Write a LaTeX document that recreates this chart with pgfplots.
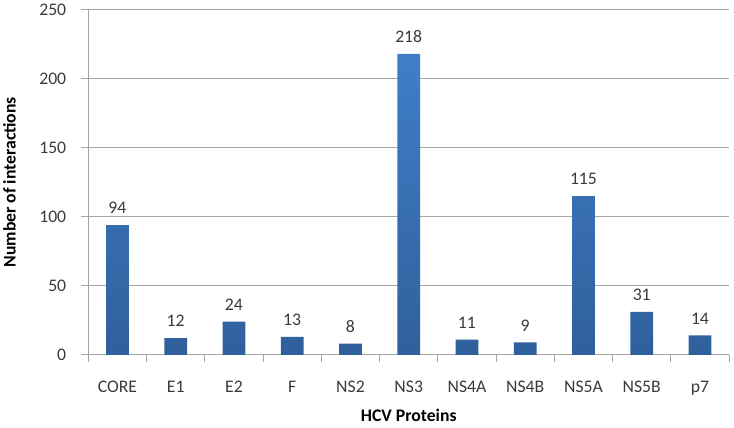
\documentclass[border=0pt]{standalone}
\usepackage{pgfplots}
\pgfplotsset{compat=1.18}
\usepackage{fontspec}
\setmainfont{Carlito}

\definecolor{bartop}{HTML}{407EC8}
\definecolor{barmid}{HTML}{3871B8}
\definecolor{barbot}{HTML}{2F609C}
\definecolor{gridgray}{HTML}{A6A6A6}
\definecolor{txt}{HTML}{3A3A3A}

\begin{document}
\begin{tikzpicture}
\begin{axis}[
    scale only axis,
    width=652pt, height=351pt,
    ybar, bar width=23pt,
    xmin=-0.5, xmax=10.5,
    ymin=0, ymax=250,
    ytick={0,50,...,250},
    xtick={0,...,10},
    xticklabels={CORE,E1,E2,F,NS2,NS3,NS4A,NS4B,NS5A,NS5B,p7},
    minor xtick={-0.5,0.5,...,10.5},
    axis lines*=left,
    axis line style={gridgray, line width=0.8pt},
    ymajorgrids,
    grid style={gridgray, line width=0.8pt},
    tick align=outside,
    major tick length=7pt,
    minor tick length=7pt,
    major x tick style={draw=none},
    minor x tick style={gridgray, line width=0.8pt},
    y tick style={gridgray, line width=0.8pt},
    tick label style={font=\fontsize{18}{20}\selectfont, text=txt},
    xticklabel style={yshift=-16pt},
    yticklabel style={xshift=-12pt},
    /pgf/number format/assume math mode=true,
    xlabel={\textbf{HCV Proteins}},
    ylabel={\textbf{Number of interactions}},
    label style={font=\fontsize{18}{20}\selectfont, text=black},
    xlabel style={yshift=-7pt},
    ylabel style={yshift=17pt},
    nodes near coords,
    nodes near coords style={font=\fontsize{18}{20}\selectfont, text=txt, yshift=8pt},
]
\addplot[draw=none, top color=bartop, middle color=barmid, bottom color=barbot] coordinates {
    (0,94) (1,12) (2,24) (3,13) (4,8) (5,218) (6,11) (7,9) (8,115) (9,31) (10,14)};
\coordinate (ll) at (rel axis cs:0,0);
\coordinate (ur) at (rel axis cs:1,1);
\end{axis}
% keep the reference's margins around the plot area
\path ([xshift=-77pt, yshift=-74pt]ll) rectangle ([xshift=5pt, yshift=10pt]ur);
\end{tikzpicture}
\end{document}
